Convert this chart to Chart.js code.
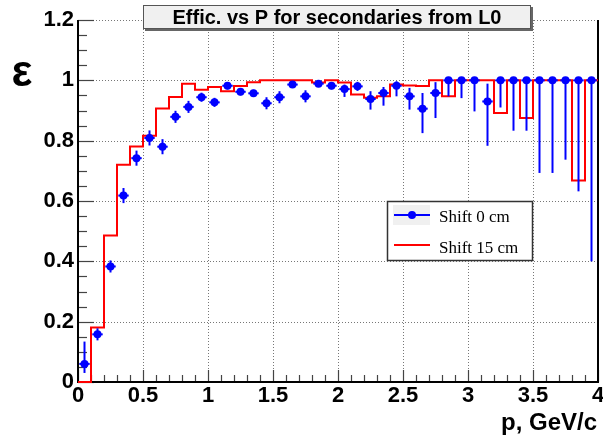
<!DOCTYPE html>
<html>
<head>
<meta charset="utf-8">
<script src="https://cdn.jsdelivr.net/npm/chart.js@4.4.1/dist/chart.umd.min.js"></script>
<style>
  html, body { margin: 0; padding: 0; background: #fff; }
</style>
</head>
<body>
<canvas id="effChart" width="603" height="439"></canvas>
<script>
// bin centers, GeV/c
const pCenters = [0.05, 0.15, 0.25, 0.35, 0.45, 0.55, 0.65, 0.75, 0.85, 0.95,
    1.05, 1.15, 1.25, 1.35, 1.45, 1.55, 1.65, 1.75, 1.85, 1.95,
    2.05, 2.15, 2.25, 2.35, 2.45, 2.55, 2.65, 2.75, 2.85, 2.95,
    3.05, 3.15, 3.25, 3.35, 3.45, 3.55, 3.65, 3.75, 3.85, 3.95];

// Shift 0 cm (points with errors)
const effShift0 = [0.060, 0.158, 0.383, 0.618, 0.742, 0.809, 0.780, 0.879, 0.912, 0.944,
    0.927, 0.982, 0.962, 0.957, 0.924, 0.944, 0.986, 0.947, 0.989, 0.982,
    0.971, 0.980, 0.938, 0.958, 0.982, 0.947, 0.906, 0.958, 1.0, 1.0,
    1.0, 0.930, 1.0, 1.0, 1.0, 1.0, 1.0, 1.0, 1.0, 1.0];
const errUp0 = [0.074, 0.02, 0.02, 0.025, 0.025, 0.025, 0.025, 0.02, 0.02, 0.015,
    0.015, 0.012, 0.012, 0.012, 0.02, 0.02, 0.01, 0.02, 0.01, 0.012,
    0.015, 0.015, 0.026, 0.02, 0.015, 0.028, 0.052, 0.036, 0, 0,
    0, 0.059, 0, 0, 0, 0, 0, 0, 0, 0];
const errDown0 = [0.030, 0.02, 0.02, 0.025, 0.025, 0.025, 0.025, 0.02, 0.02, 0.015,
    0.015, 0.012, 0.012, 0.012, 0.02, 0.02, 0.01, 0.02, 0.01, 0.012,
    0.026, 0.015, 0.035, 0.042, 0.035, 0.044, 0.081, 0.083, 0.053, 0.059,
    0.103, 0.147, 0.090, 0.167, 0.167, 0.307, 0.307, 0.263, 0.368, 0.600];

// Shift 15 cm (histogram)
const effShift15 = [0, 0.181, 0.486, 0.720, 0.781, 0.816, 0.907, 0.945, 0.989, 0.969,
    0.978, 0.964, 0.981, 0.994, 1.0, 1.0, 1.0, 1.0, 0.993, 1.0,
    0.993, 0.953, 0.942, 0.947, 0.986, 0.983, 0.981, 1.0, 0.947, 1.0,
    1.0, 1.0, 0.892, 1.0, 0.875, 1.0, 1.0, 1.0, 0.668, 1.0];

const binHalf = 0.05;

const histPoints = pCenters.map((c, i) => ({ x: c - binHalf, y: effShift15[i] }));
histPoints.push({ x: pCenters[pCenters.length - 1] + binHalf, y: effShift15[effShift15.length - 1] });

const points0 = pCenters.map((c, i) => ({ x: c, y: effShift0[i] }));

function seg(ctx, x1, y1, x2, y2) {
    ctx.beginPath();
    ctx.moveTo(x1, y1);
    ctx.lineTo(x2, y2);
    ctx.stroke();
}

// ROOT style labels: 0, 0.2, 1, 1.2 ...
const rootLabel = v => String(Math.round(v * 100) / 100);

const rootStyle = {
    id: 'rootStyle',
    beforeDatasetsDraw(chart) {
        const { ctx, chartArea: a, scales: { x, y } } = chart;
        ctx.save();
        // dotted grid
        ctx.strokeStyle = '#777';
        ctx.lineWidth = 1;
        ctx.setLineDash([1, 2]);
        x.ticks.forEach(t => {
            if (t.value <= x.min || t.value >= x.max) return;
            const px = Math.round(x.getPixelForValue(t.value)) + 0.5;
            seg(ctx, px, a.top, px, a.bottom);
        });
        y.ticks.forEach(t => {
            if (t.value <= y.min) return;
            const py = Math.round(y.getPixelForValue(t.value)) + 0.5;
            seg(ctx, a.left, py, a.right, py);
        });
        ctx.setLineDash([]);
        // ticks
        ctx.strokeStyle = '#444';
        ctx.lineWidth = 1.2;
        for (let k = 0; k <= 24; k++) {
            const py = Math.round(y.getPixelForValue(k * 0.05)) + 0.5;
            const len = k % 4 === 0 ? 16 : 9;
            seg(ctx, a.left, py, a.left + len, py);
        }
        for (let k = 0; k <= 40; k++) {
            const px = Math.round(x.getPixelForValue(k * 0.1)) + 0.5;
            const len = k % 5 === 0 ? 12 : 7;
            seg(ctx, px, a.bottom, px, a.bottom - len);
        }
        // frame
        ctx.strokeStyle = '#000';
        ctx.lineWidth = 2;
        ctx.beginPath();
        ctx.moveTo(a.left, a.top);
        ctx.lineTo(a.left, a.bottom);
        ctx.lineTo(a.right, a.bottom);
        ctx.lineTo(a.right, a.top);
        ctx.stroke();
        ctx.restore();
    },
    beforeDatasetDraw(chart, args) {
        if (args.index !== 0) return;
        const { ctx, scales: { x, y } } = chart;
        ctx.save();
        ctx.strokeStyle = '#0000ff';
        ctx.lineWidth = 2;
        pCenters.forEach((c, i) => {
            const px = x.getPixelForValue(c);
            const py = y.getPixelForValue(effShift0[i]);
            seg(ctx, px, y.getPixelForValue(effShift0[i] - errDown0[i]), px, y.getPixelForValue(effShift0[i] + errUp0[i]));
            seg(ctx, x.getPixelForValue(c - 0.04), py, x.getPixelForValue(c + 0.04), py);
        });
        ctx.restore();
    },
    afterDraw(chart) {
        const { ctx } = chart;
        ctx.save();
        // title box
        ctx.fillStyle = '#666';
        ctx.fillRect(145, 7, 388, 24);
        ctx.fillStyle = '#f0f0f0';
        ctx.fillRect(143, 5, 388, 24);
        ctx.strokeStyle = '#555';
        ctx.lineWidth = 1;
        ctx.strokeRect(143.5, 5.5, 387, 23);
        ctx.fillStyle = '#000';
        ctx.font = 'bold 20px "Liberation Sans", Arial, sans-serif';
        ctx.textAlign = 'center';
        ctx.textBaseline = 'middle';
        ctx.fillText('Effic. vs P for secondaries from L0', 337, 18);

        // axis titles
        ctx.font = 'bold 44px "Liberation Sans", Arial, sans-serif';
        ctx.fillText('ε', 22, 74);
        ctx.font = 'bold 24px "Liberation Sans", Arial, sans-serif';
        ctx.textAlign = 'right';
        ctx.textBaseline = 'alphabetic';
        ctx.fillText('p, GeV/c', 597, 430);

        // legend
        ctx.fillStyle = '#fff';
        ctx.fillRect(387, 201, 146, 60);
        ctx.strokeStyle = '#333';
        ctx.lineWidth = 1.5;
        ctx.strokeRect(387.5, 201.5, 145, 59);
        ctx.fillStyle = '#f0f0f0';
        ctx.fillRect(393, 205, 37, 20);
        ctx.strokeStyle = '#0000ff';
        ctx.lineWidth = 2;
        seg(ctx, 394, 215, 430, 215);
        ctx.fillStyle = '#0000ff';
        ctx.beginPath();
        ctx.arc(412, 215, 4, 0, Math.PI * 2);
        ctx.fill();
        ctx.strokeStyle = '#ff0000';
        seg(ctx, 394, 245, 430, 245);
        ctx.fillStyle = '#000';
        ctx.font = '17px "Liberation Serif", "Times New Roman", serif';
        ctx.textAlign = 'left';
        ctx.fillText('Shift 0 cm', 439, 222);
        ctx.fillText('Shift 15 cm', 439, 253);
        ctx.restore();
    }
};

const tickFont = { family: '"Liberation Sans", Arial, sans-serif', size: 22, weight: 'bold' };

new Chart(document.getElementById('effChart').getContext('2d'), {
    type: 'scatter',
    data: {
        datasets: [{
            label: 'Shift 0 cm',
            data: points0,
            backgroundColor: '#0000ff',
            borderColor: '#0000ff',
            pointRadius: 4,
            pointBorderWidth: 0,
            showLine: false
        },
        {
            label: 'Shift 15 cm',
            type: 'line',
            data: histPoints,
            borderColor: '#ff0000',
            borderWidth: 2,
            pointRadius: 0,
            stepped: 'before',
            fill: false,
            clip: false
        }]
    },
    options: {
        responsive: false,
        animation: false,
        events: [],
        layout: { padding: { top: 20, right: 5, left: 0, bottom: 0 } },
        plugins: {
            legend: { display: false },
            tooltip: { enabled: false }
        },
        scales: {
            x: {
                type: 'linear',
                min: 0,
                max: 4,
                ticks: { stepSize: 0.5, font: tickFont, color: '#000', padding: 1, maxRotation: 0, callback: rootLabel },
                grid: { display: false, drawTicks: false },
                border: { display: false },
                afterFit(scale) { scale.height = 57; scale.paddingLeft = 0; scale.paddingRight = 0; }
            },
            y: {
                min: 0,
                max: 1.2,
                ticks: { stepSize: 0.2, font: tickFont, color: '#000', padding: 4, callback: rootLabel },
                grid: { display: false, drawTicks: false },
                border: { display: false },
                afterFit(scale) { scale.width = 78; scale.paddingTop = 0; scale.paddingBottom = 0; }
            }
        }
    },
    plugins: [rootStyle]
});
</script>
</body>
</html>
